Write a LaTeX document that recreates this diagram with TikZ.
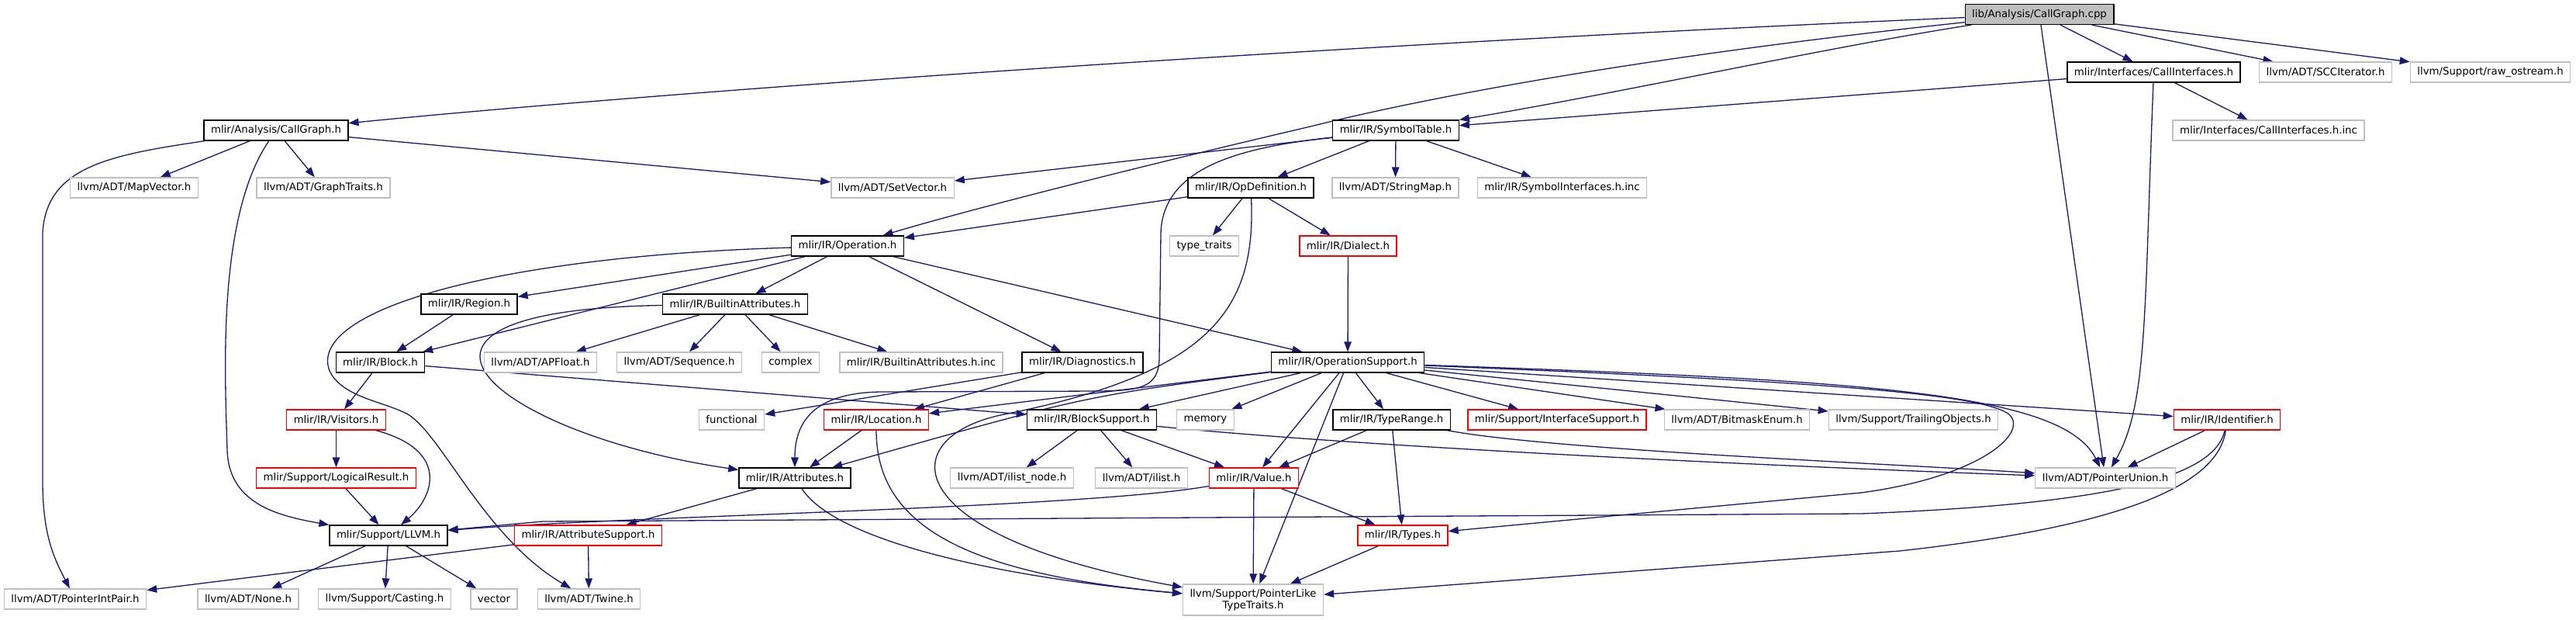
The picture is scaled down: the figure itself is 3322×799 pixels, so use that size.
\documentclass[tikz,border=0pt]{standalone}
\usepackage{fontspec}
\usepackage{tikz}
\usetikzlibrary{arrows.meta,backgrounds}
\newfontfamily\dotfont{DejaVu Sans}
\definecolor{edgeblue}{HTML}{191970}
\definecolor{extgray}{HTML}{BFBFBF}
\definecolor{truncred}{HTML}{FF0000}
\tikzset{
  filebox/.style={
    draw=black,fill=white,line width=1.3pt,
    minimum height=26pt,inner xsep=9pt,inner ysep=0pt,
    font=\dotfont\fontsize{13.3}{15}\selectfont
  },
  mainbox/.style={filebox,fill=extgray},
  extbox/.style={filebox,draw=extgray},
  redbox/.style={filebox,draw=truncred},
  incl/.style={-{Triangle[length=13pt,width=9.5pt]},draw=edgeblue,line width=1.3pt}
}

\begin{document}
\begin{tikzpicture}[x=1pt,y=-1pt]
\useasboundingbox (0,0) rectangle (3322,799);

\node[mainbox] (cpp) at (2630,18.5) {lib/Analysis/CallGraph.cpp};

\node[filebox] (callif) at (2777.5,93) {mlir/Interfaces/CallInterfaces.h};
\node[extbox] (scc) at (2999,93) {llvm/ADT/SCCIterator.h};
\node[extbox] (rawos) at (3211.5,93) {llvm/Support/raw\_ostream.h};

\node[filebox] (cgh) at (356,168) {mlir/Analysis/CallGraph.h};
\node[filebox] (symtab) at (1800,168) {mlir/IR/SymbolTable.h};
\node[extbox] (callifinc) at (2925.5,168) {mlir/Interfaces/CallInterfaces.h.inc};

\node[extbox] (mapvec) at (173,242) {llvm/ADT/MapVector.h};
\node[extbox] (graphtr) at (417,242) {llvm/ADT/GraphTraits.h};
\node[extbox] (setvec) at (1151,242) {llvm/ADT/SetVector.h};
\node[filebox] (opdef) at (1613,242) {mlir/IR/OpDefinition.h};
\node[extbox] (strmap) at (1799.5,242) {llvm/ADT/StringMap.h};
\node[extbox] (syminc) at (2014.5,242) {mlir/IR/SymbolInterfaces.h.inc};

\node[filebox] (operation) at (1093,317) {mlir/IR/Operation.h};
\node[extbox] (typetr) at (1553,317) {type\_traits};
\node[redbox] (dialect) at (1738.5,317) {mlir/IR/Dialect.h};

\node[filebox] (region) at (605,392) {mlir/IR/Region.h};
\node[filebox] (battr) at (948,392) {mlir/IR/BuiltinAttributes.h};

\node[filebox] (block) at (490.5,467) {mlir/IR/Block.h};
\node[extbox] (apfloat) at (697,467) {llvm/ADT/APFloat.h};
\node[extbox] (sequence) at (876,467) {llvm/ADT/Sequence.h};
\node[extbox] (complex) at (1019.5,467) {complex};
\node[extbox] (battrinc) at (1188,467) {mlir/IR/BuiltinAttributes.h.inc};
\node[filebox] (diag) at (1396,467) {mlir/IR/Diagnostics.h};
\node[filebox] (opsup) at (1738,467) {mlir/IR/OperationSupport.h};

\node[redbox] (visitors) at (433.5,541) {mlir/IR/Visitors.h};
\node[extbox] (functional) at (943.5,541) {functional};
\node[redbox] (location) at (1130,541) {mlir/IR/Location.h};
\node[filebox] (blocksup) at (1408,541) {mlir/IR/BlockSupport.h};
\node[extbox] (memory) at (1554.5,541) {memory};
\node[filebox] (typerange) at (1794.5,541) {mlir/IR/TypeRange.h};
\node[redbox] (ifacesup) at (2008,541) {mlir/Support/InterfaceSupport.h};
\node[extbox] (bitmask) at (2240,541) {llvm/ADT/BitmaskEnum.h};
\node[extbox] (trailing) at (2467.5,541) {llvm/Support/TrailingObjects.h};
\node[redbox] (ident) at (2872,541) {mlir/IR/Identifier.h};

\node[redbox] (logical) at (433.5,616) {mlir/Support/LogicalResult.h};
\node[filebox] (attrs) at (1025,616) {mlir/IR/Attributes.h};
\node[extbox] (ilistnode) at (1305,616) {llvm/ADT/ilist\_node.h};
\node[extbox] (ilist) at (1472,616) {llvm/ADT/ilist.h};
\node[redbox] (value) at (1617,616) {mlir/IR/Value.h};
\node[extbox] (ptrunion) at (2715,616) {llvm/ADT/PointerUnion.h};

\node[filebox] (llvmh) at (501,690) {mlir/Support/LLVM.h};
\node[redbox] (attrsup) at (758.5,690) {mlir/IR/AttributeSupport.h};
\node[redbox] (types) at (1809,690) {mlir/IR/Types.h};

\node[extbox] (ptrintpair) at (97,772) {llvm/ADT/PointerIntPair.h};
\node[extbox] (none) at (320,772) {llvm/ADT/None.h};
\node[extbox] (casting) at (496,772) {llvm/Support/Casting.h};
\node[extbox] (vector) at (637,772) {vector};
\node[extbox] (twine) at (759.5,772) {llvm/ADT/Twine.h};
\node[extbox,align=center,minimum height=40pt] (ptrlike) at (1616,773)
{llvm/Support/PointerLike\\TypeTraits.h};

\begin{scope}[on background layer]
\fill[white] (0,0) rectangle (3322,799);
\draw[incl] (cpp) .. controls (1660,60) and (830,121) .. (cgh);
\draw[incl] (cpp) -- (callif);
\draw[incl] (cpp) .. controls (2100,75) and (1830,128) .. (1690,163)
  .. controls (1480,212) and (1250,270) .. (operation);
\draw[incl] (cpp) .. controls (2350,62) and (2100,118) .. (symtab);
\draw[incl] (cpp) -- (ptrunion);
\draw[incl] (cpp) -- (scc);
\draw[incl] (cpp) -- (rawos);

\draw[incl] (callif) -- (symtab);
\draw[incl] (callif) .. controls (2765,400) and (2770,520) .. (ptrunion);
\draw[incl] (callif) -- (callifinc);

\draw[incl] (cgh) -- (mapvec);
\draw[incl] (cgh) -- (graphtr);
\draw[incl] (cgh) -- (setvec);
\draw[incl] (cgh) .. controls (280,280) and (290,480) .. (293,580)
  .. controls (295,650) and (360,665) .. (llvmh);
\draw[incl] (cgh) .. controls (140,200) and (60,215) .. (55,300) -- (55,620)
  .. controls (55,690) and (70,720) .. (ptrintpair);

\draw[incl] (symtab) -- (setvec);
\draw[incl] (symtab) -- (opdef);
\draw[incl] (symtab) -- (strmap);
\draw[incl] (symtab) -- (syminc);
\draw[incl] (symtab) .. controls (1600,190) and (1500,215) .. (1497,300) -- (1495,460)
  .. controls (1495,500) and (1470,503) .. (1420,504) -- (1140,505)
  .. controls (1060,505) and (1025,535) .. (attrs);

\draw[incl] (opdef) -- (operation);
\draw[incl] (opdef) -- (typetr);
\draw[incl] (opdef) -- (dialect);
\draw[incl] (opdef) .. controls (1620,400) and (1560,480) .. (1300,533)
  .. controls (1150,560) and (1150,690) .. (ptrlike);

\draw[incl] (operation) .. controls (640,330) and (395,400) .. (425,478)
  .. controls (440,510) and (490,517) .. (520,531)
  .. controls (565,548) and (620,690) .. (twine);
\draw[incl] (operation) -- (region);
\draw[incl] (operation) -- (block);
\draw[incl] (operation) -- (battr);
\draw[incl] (operation) -- (diag);
\draw[incl] (operation) -- (opsup);

\draw[incl] (region) -- (block);
\draw[incl] (battr) -- (apfloat);
\draw[incl] (battr) -- (sequence);
\draw[incl] (battr) -- (complex);
\draw[incl] (battr) -- (battrinc);
\draw[incl] (battr) .. controls (440,400) and (640,560) .. (attrs);
\draw[incl] (block) -- (visitors);
\draw[incl] (block) -- (blocksup);
\draw[incl] (diag) -- (functional);
\draw[incl] (diag) -- (location);
\draw[incl] (dialect) -- (opsup);

\draw[incl] (opsup) -- (location);
\draw[incl] (opsup) .. controls (1400,510) .. (attrs);
\draw[incl] (opsup) -- (blocksup);
\draw[incl] (opsup) -- (memory);
\draw[incl] (opsup) -- (typerange);
\draw[incl] (opsup) -- (ifacesup);
\draw[incl] (opsup) -- (bitmask);
\draw[incl] (opsup) -- (trailing);
\draw[incl] (opsup) -- (value);
\draw[incl] (opsup) -- (ptrlike);
\draw[incl] (opsup) -- (ident);
\draw[incl] (opsup) .. controls (2400,490) and (2660,505) .. (ptrunion);
\draw[incl] (opsup) .. controls (2300,490) and (2560,505) .. (2592,535)
  .. controls (2615,560) and (2550,615) .. (2400,635) -- (types);

\draw[incl] (visitors) -- (logical);
\draw[incl] (visitors) .. controls (580,580) and (560,640) .. (llvmh);
\draw[incl] (location) -- (attrs);
\draw[incl] (location) .. controls (1130,680) and (1250,740) .. (ptrlike);
\draw[incl] (blocksup) -- (ilistnode);
\draw[incl] (blocksup) -- (ilist);
\draw[incl] (blocksup) -- (value);
\draw[incl] (blocksup) .. controls (1800,580) and (2400,605) .. (ptrunion);
\draw[incl] (typerange) -- (value);
\draw[incl] (typerange) -- (types);
\draw[incl] (typerange) .. controls (2000,580) and (2450,598) .. (ptrunion);
\draw[incl] (ident) -- (ptrunion);
\draw[incl] (ident) .. controls (2855,620) and (2700,650) .. (2400,662)
  -- (700,672) -- (llvmh);
\draw[incl] (ident) .. controls (2860,630) and (2720,680) .. (2450,710) -- (ptrlike);

\draw[incl] (logical) -- (llvmh);
\draw[incl] (attrs) .. controls (1080,700) and (1300,745) .. (ptrlike);
\draw[incl] (attrs) -- (attrsup);
\draw[incl] (value) .. controls (1400,655) and (800,665) .. (llvmh);
\draw[incl] (value) -- (ptrlike);
\draw[incl] (value) -- (types);
\draw[incl] (types) -- (ptrlike);
\draw[incl] (llvmh) -- (none);
\draw[incl] (llvmh) -- (casting);
\draw[incl] (llvmh) -- (vector);
\draw[incl] (attrsup) -- (ptrintpair);
\draw[incl] (attrsup) -- (twine);
\end{scope}
\end{tikzpicture}
\end{document}
